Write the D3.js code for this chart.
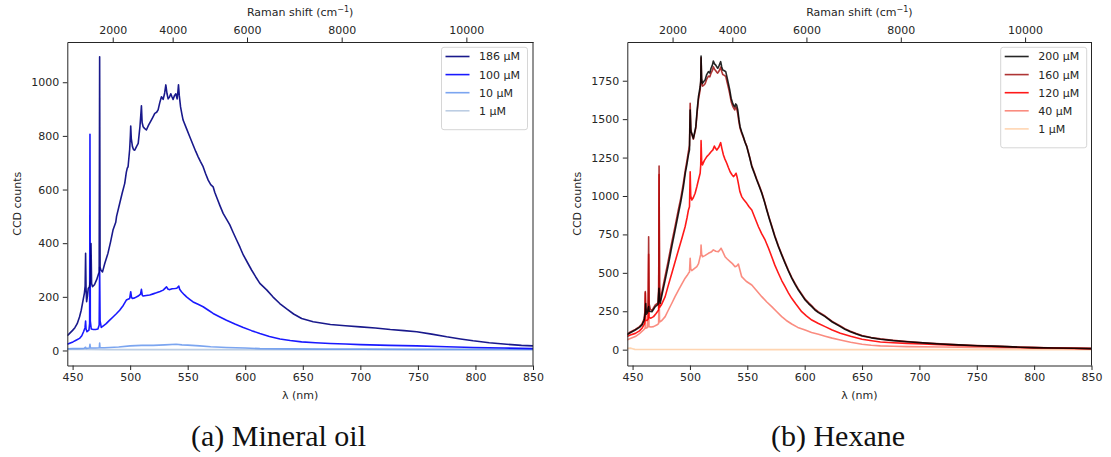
<!DOCTYPE html>
<html>
<head>
<meta charset="utf-8">
<script src="https://cdn.jsdelivr.net/npm/d3@7"></script>
<style>
  body { margin: 0; background: #fff; }
  svg { display: block; font-family: "DejaVu Sans", sans-serif; }
</style>
</head>
<body>
<svg id="fig" width="1111" height="457"></svg>
<script>
// ---- tick labels ----
const nmTicks = [450, 500, 550, 600, 650, 700, 750, 800, 850];
const ramanTicks = [2000, 4000, 6000, 8000, 10000];
const oilCountTicks = [0, 200, 400, 600, 800, 1000];
const hexCountTicks = [0, 250, 500, 750, 1000, 1250, 1500, 1750];
const excitationNm = 442;

// ---- mineral oil spectra: [wavelength nm, CCD counts] ----
const oil186 = [[445.4,55],[447,62],[450,75],[452,85],[454,100],[456,125],[457.5,150],[459,185],[460.3,215],[460.9,240],[461.3,362],[461.7,230],[462.2,182],[462.8,200],[463.6,232],[464.6,236],[465.1,250],[465.5,260],[466.0,399],[466.5,250],[467.3,238],[469,245],[471,265],[472.5,285],[473.1,292],[473.5,1095],[473.9,310],[474.5,300],[476,293],[478,325],[480.7,362],[483,405],[485.1,449],[487.5,478],[488.2,500],[490.9,548],[493,585],[495.3,623],[496.7,665],[497.5,680],[498.2,685],[499.6,750],[500.2,800],[500.5,837],[501,790],[502,760],[503,748],[504,747],[505.5,760],[507,772],[508.5,834],[509.3,880],[509.8,912],[510.4,850],[511.3,834],[512.5,828],[514.1,822],[516,840],[518.4,859],[520,872],[521.4,884],[523,888],[524.3,897],[525.8,925],[527.2,946],[528.7,936],[530,960],[531,990],[532,958],[533,938],[534.2,945],[535.3,957],[536.4,945],[537.3,936],[538.5,950],[539.7,957],[540.8,938],[541.5,965],[542,990],[542.7,950],[543.8,908],[545,880],[546,859],[548.9,828],[551.8,797],[554.7,766],[557,742],[559.1,722],[561,705],[563.4,685],[565.5,660],[567.8,635],[570,618],[572.1,610],[573.5,590],[575,573],[578,540],[580.8,511],[583.7,490],[586.6,468],[589.5,440],[592.5,412],[595.4,385],[598.3,356],[601.9,328],[605.5,300],[609,275],[612.7,250],[618.6,226],[624,200],[630,175],[636,155],[642,136],[649,119],[659,107],[674,97],[687,92],[700,88],[713,84],[726,78],[738,74],[749,70],[762,61],[775,51],[787,43],[798,36],[812,29],[827,23],[840,19],[850,17]];
const oil100 = [[445.4,23],[448,28],[450.3,32],[453,38],[456,45],[458,55],[459.5,70],[460.8,85],[461.3,110],[461.7,80],[462.5,70],[464.2,76],[464.8,100],[465.1,806],[465.4,110],[466.2,80],[468,78],[470,78],[472,80],[473.1,95],[473.5,310],[473.9,110],[474.9,86],[477,93],[479.2,100],[482,112],[485.1,125],[488,137],[490.9,150],[494,168],[496.7,188],[499.6,194],[500.5,219],[501.2,198],[502,194],[504,196],[507,203],[509,210],[509.8,228],[510.5,206],[511.3,203],[514,205],[517,207],[520,211],[522.8,215],[526,220],[528.7,225],[531.6,237],[533,228],[534.5,227],[536.5,230],[538.8,231],[540.5,232],[542.3,240],[543,228],[544.6,219],[547,208],[549,200],[552,190],[554.7,181],[559,172],[563.4,163],[568,150],[572.1,138],[578,125],[583.7,113],[591,99],[598.3,86],[605.5,74],[612.7,63],[621,52],[630.2,43],[639,37],[649,32],[661,29],[673.7,26],[687,24],[700,22],[725,19],[749,17],[775,14],[798,11],[825,9],[850,7]];
const oil10 = [[445.4,6],[450,7],[455,7],[460,8],[461.3,12],[461.6,8],[464.6,9],[465.1,23],[465.5,9],[470,9],[473.2,10],[473.5,28],[473.8,10],[478,10],[482,11],[490,13],[500,17],[505,18],[510,19],[520,19],[530,21],[540,23],[545,21],[550,20],[560.5,17],[570,14],[583.8,11],[600,9],[612.7,7],[640,6],[670,5],[700,5],[750,4],[800,4],[850,4]];
const oil1 = [[445.4,4],[460,4],[480,3],[505,3],[550,3],[600,3],[650,3],[700,3],[750,3],[800,3],[850,3]];

// ---- hexane spectra: [wavelength nm, CCD counts] ----
const hex200 = [[445.1,96],[448,110],[452.4,128],[456,145],[458.2,161],[460,190],[461.1,237],[461.5,300],[461.9,230],[463,240],[464,280],[464.5,250],[466.9,247],[469.8,280],[472.2,295],[473,400],[473.5,320],[474.1,302],[476,370],[478.4,453],[481,545],[484.2,670],[487,775],[490,887],[492,960],[494.3,1060],[496,1150],[497.3,1202],[498.7,1267],[499.6,1300],[500.2,1560],[500.8,1420],[501.6,1408],[503,1375],[505.1,1451],[506.3,1560],[507.4,1646],[508.9,1711],[509.4,1750],[509.7,1911],[510.2,1760],[510.9,1733],[512,1745],[513.2,1755],[514.6,1790],[516.1,1809],[517.3,1800],[518.4,1831],[519.5,1850],[520.4,1878],[521.4,1860],[522.5,1852],[523.4,1840],[524.2,1831],[525.5,1850],[526.8,1874],[527.7,1840],[528.6,1820],[530,1815],[531.2,1809],[532.4,1770],[533.5,1733],[534.7,1690],[535.9,1636],[537,1610],[537.9,1592],[539,1580],[539.9,1599],[540.8,1590],[541.7,1560],[542.7,1500],[543.7,1451],[545,1420],[546.6,1386],[548,1350],[549.5,1321],[552,1250],[553.9,1191],[556,1150],[558.2,1104],[560.5,1060],[562.6,1018],[565,960],[566.9,909],[569,855],[571.3,800],[574,735],[577.1,670],[580,615],[582.9,562],[585.8,512],[588.7,465],[591.6,425],[594.5,388],[597.5,355],[600.4,323],[603.3,300],[606.2,280],[609,258],[612,241],[617.8,215],[624,180],[631.1,150],[635,133],[639.8,117],[645,102],[650,89],[658,77],[666,68],[677,59],[689.2,52],[703,44],[718.3,37],[734,31],[750.2,26],[763,23],[776.3,20],[788,16],[799.6,13],[817,11],[834.5,9],[850,7]];
const hex160 = [[445.1,100],[448,115],[452.4,132],[456,150],[458.2,166],[460,200],[460.8,250],[461.1,378],[461.5,245],[462.5,250],[463.6,280],[464.0,735],[464.4,300],[465.5,262],[466.9,255],[469.8,292],[472.2,305],[472.8,400],[473.1,1195],[473.5,420],[474.1,320],[476,390],[478.4,480],[481,575],[484.2,700],[487,800],[490,915],[492,985],[494.3,1085],[496,1170],[497.3,1225],[498.7,1290],[499.6,1330],[500.2,1603],[500.8,1440],[501.6,1400],[503,1370],[505.1,1440],[506.3,1545],[507.4,1625],[508.9,1690],[509.4,1740],[509.7,1900],[510.2,1740],[510.9,1715],[512,1720],[513.2,1730],[514.6,1760],[516.1,1780],[517.3,1775],[518.4,1800],[519.5,1815],[520.4,1840],[521.4,1825],[522.5,1815],[523.4,1805],[524.2,1800],[525.5,1815],[526.8,1838],[527.7,1810],[528.6,1790],[530,1785],[531.2,1778],[532.4,1740],[533.5,1705],[534.7,1665],[535.9,1615],[537,1590],[537.9,1575],[539,1560],[539.9,1580],[540.8,1565],[541.7,1535],[542.7,1480],[543.7,1440],[545,1410],[546.6,1380],[548,1352],[549.5,1325],[552,1255],[553.9,1198],[556,1156],[558.2,1110],[560.5,1066],[562.6,1024],[565,966],[566.9,915],[569,861],[571.3,806],[574,741],[577.1,676],[580,621],[582.9,568],[585.8,518],[588.7,471],[591.6,431],[594.5,394],[597.5,361],[600.4,329],[603.3,306],[606.2,285],[609,263],[612,246],[617.8,219],[624,184],[631.1,154],[635,137],[639.8,120],[645,105],[650,92],[658,79],[666,70],[677,61],[689.2,53],[703,45],[718.3,38],[734,32],[750.2,27],[763,23],[776.3,20],[788,16],[799.6,13],[817,11],[834.5,9],[850,7]];
const hex120 = [[445.1,85],[448,95],[452.4,106],[456,122],[458.2,139],[460.5,171],[460.9,200],[461.1,370],[461.4,190],[462.5,190],[463.6,200],[464.0,620],[464.3,210],[466,205],[468.3,215],[470.5,235],[472.7,258],[473.1,1140],[473.5,275],[475,290],[478.4,345],[481,415],[484.2,497],[487,570],[490,649],[493,725],[495.8,800],[497.5,860],[498.7,909],[499.6,930],[500.2,1158],[500.7,1000],[501.6,974],[503,990],[504.5,1018],[506,1060],[507.4,1104],[508.9,1148],[509.4,1200],[509.7,1360],[510.2,1230],[510.9,1202],[512.5,1230],[514.7,1256],[516.5,1270],[518.4,1288],[520,1300],[521.3,1325],[522.3,1310],[523.4,1299],[525,1315],[526.8,1347],[527.8,1310],[529.2,1267],[530.5,1240],[532.1,1213],[533.5,1185],[535,1158],[536.5,1140],[537.9,1126],[539,1135],[540.2,1148],[541.2,1120],[542.2,1082],[543.5,1030],[545.1,996],[547,975],[549.5,952],[551.5,930],[553.9,909],[556.5,860],[559.7,800],[562.5,755],[565.5,714],[568.5,660],[571.3,605],[574,550],[577.1,497],[580,450],[582.9,410],[585.8,370],[588.7,334],[592,300],[597.4,247],[601.5,220],[606.2,193],[612,170],[617.8,150],[624,128],[631.1,107],[640,87],[650,68],[657,60],[666,50],[677,45],[689.2,41],[703,37],[718.3,33],[734,28],[750.2,24],[775,18],[799.6,13],[825,10],[850,7]];
const hex40 = [[445.1,63],[448,72],[452.4,85],[456,104],[459.5,128],[460.9,140],[461.1,190],[461.4,140],[463,145],[464,320],[464.3,150],[466,148],[468.3,150],[471,160],[472.7,170],[473.1,400],[473.5,180],[475.5,190],[478.4,215],[481,255],[484.2,302],[487,345],[490,388],[493,428],[495.8,465],[497.5,482],[498.7,497],[499.6,505],[500.2,595],[500.7,525],[501.6,514],[503.5,525],[506,540],[507.5,560],[508.9,605],[509.4,620],[509.7,681],[510.2,620],[510.9,605],[513,612],[516.1,627],[518.5,635],[520.4,649],[522.5,640],[524.8,638],[526,648],[527.1,660],[528.5,640],[530.6,605],[532.5,590],[535,573],[537,560],[539.3,540],[540.8,545],[542.2,557],[543.5,520],[545.1,475],[549,445],[553.9,421],[558,385],[562.6,345],[567,310],[571.3,280],[575.5,248],[580,215],[584,190],[588.7,167],[594,145],[600.4,128],[606,112],[612,100],[617.8,88],[624,75],[631.1,63],[640,48],[650,35],[658,29],[666,25],[677,22],[689.2,20],[720,17],[750.2,15],[800,10],[850,7]];
const hex1 = [[445.1,8],[448,10],[450,6],[452,2],[460,1],[500,1],[600,0],[700,0],[850,0]];

const oilLabels = ["186 µM", "100 µM", "10 µM", "1 µM"];
const hexLabels = ["200 µM", "160 µM", "120 µM", "40 µM", "1 µM"];

// ---- drawing ----
const svg = d3.select("#fig");
const toLambda = s => 1e7 / (1e7 / excitationNm - s);
const plain = d3.format("d");

function drawPanel(p) {
  const x = d3.scaleLinear().domain([445.4, 850]).range([p.left, p.right]);
  const y = d3.scaleLinear().domain(p.yDomain).range([p.bottom, p.top]);
  const g = svg.append("g");

  // spectra
  const line = d3.line().x(d => x(d[0])).y(d => y(d[1]));
  const clipId = "clip" + p.id;
  svg.append("clipPath").attr("id", clipId).append("rect")
    .attr("x", p.left).attr("y", p.top).attr("width", p.right - p.left).attr("height", p.bottom - p.top);
  const lines = g.append("g").attr("clip-path", `url(#${clipId})`);
  p.series.slice().reverse().forEach(s => {
    lines.append("path").datum(s.data)
      .attr("d", line).attr("fill", "none")
      .attr("stroke", s.color).attr("stroke-opacity", s.alpha)
      .attr("stroke-width", 1.6).attr("stroke-linejoin", "round");
  });

  // axes
  const axisStyle = sel => {
    sel.selectAll("path").attr("stroke", "#262626").attr("stroke-width", 1);
    sel.selectAll("line").attr("stroke", "#262626").attr("stroke-width", 1);
    sel.selectAll("text").attr("fill", "#262626").style("font-size", "11px")
      .style("font-family", "'DejaVu Sans', sans-serif");
  };
  g.append("g").attr("transform", `translate(0,${p.bottom})`)
    .call(d3.axisBottom(x).tickValues(nmTicks).tickFormat(plain).tickSize(4.5).tickPadding(3.5).tickSizeOuter(0))
    .call(axisStyle);
  g.append("g").attr("transform", `translate(0,${p.top})`)
    .call(d3.axisTop(x).tickValues(ramanTicks.map(toLambda)).tickFormat((d, i) => plain(ramanTicks[i]))
      .tickSize(4.5).tickPadding(3.5).tickSizeOuter(0))
    .call(axisStyle);
  g.append("g").attr("transform", `translate(${p.left},0)`)
    .call(d3.axisLeft(y).tickValues(p.yTicks).tickFormat(plain).tickSize(4.5).tickPadding(3.5).tickSizeOuter(0))
    .call(axisStyle);
  g.append("line").attr("x1", p.right).attr("x2", p.right).attr("y1", p.top).attr("y2", p.bottom)
    .attr("stroke", "#262626").attr("stroke-width", 1);

  // axis titles
  const cx = (p.left + p.right) / 2;
  g.append("text").attr("x", cx).attr("y", 398.5).attr("text-anchor", "middle")
    .style("font-size", "11px").attr("fill", "#262626").text("λ (nm)");
  const rt = g.append("text").attr("x", cx).attr("y", 16).attr("text-anchor", "middle")
    .style("font-size", "11px").attr("fill", "#262626");
  rt.append("tspan").text("Raman shift (cm");
  rt.append("tspan").attr("dy", -4).style("font-size", "8px").text("−1");
  rt.append("tspan").attr("dy", 4).text(")");
  g.append("text").attr("transform", `translate(${p.left - 46},${(p.top + p.bottom) / 2}) rotate(-90)`)
    .attr("text-anchor", "middle").style("font-size", "11px").attr("fill", "#262626").text("CCD counts");

  // legend
  const lg = g.append("g").attr("transform", `translate(${p.legend.x},${p.legend.y})`);
  const rowH = 18.1;
  lg.append("rect").attr("x", 0).attr("y", 0).attr("rx", 2.5)
    .attr("width", p.legend.w).attr("height", p.series.length * rowH + 10)
    .attr("fill", "#fff").attr("fill-opacity", 0.8).attr("stroke", "#d6d6d6").attr("stroke-width", 1);
  p.series.forEach((s, i) => {
    const yy = 9.2 + i * rowH;
    lg.append("line").attr("x1", 4).attr("x2", 28).attr("y1", yy).attr("y2", yy)
      .attr("stroke", s.color).attr("stroke-opacity", s.alpha).attr("stroke-width", 1.6);
    lg.append("text").attr("x", 37.5).attr("y", yy + 4).style("font-size", "11px")
      .attr("fill", "#262626").text(s.label);
  });

  // caption
  svg.append("text").attr("x", p.captionX).attr("y", 446).attr("text-anchor", "middle")
    .style("font-family", "'Liberation Serif', serif").style("font-size", "30px")
    .attr("fill", "#111").text(p.caption);
}

const oilColors = ["#000080", "#0000ff", "#6495ed", "#b0c4de"];
const oilAlpha = [0.9, 0.9, 0.85, 0.85];
const hexColors = ["#000000", "#a01010", "#ff0000", "#fa8072", "#ffd0a8"];
const hexAlpha = [0.85, 0.85, 0.9, 0.9, 0.9];

drawPanel({
  id: "a", left: 67.3, right: 533, top: 42, bottom: 365.5, yDomain: [-56, 1150], yTicks: oilCountTicks,
  series: [oil186, oil100, oil10, oil1].map((d, i) => ({ data: d, label: oilLabels[i], color: oilColors[i], alpha: oilAlpha[i] })),
  legend: { x: 441.5, y: 47.3, w: 86 }, caption: "(a) Mineral oil", captionX: 278.5
});
drawPanel({
  id: "b", left: 627.3, right: 1091.5, top: 42, bottom: 365.5, yDomain: [-103, 2002], yTicks: hexCountTicks,
  series: [hex200, hex160, hex120, hex40, hex1].map((d, i) => ({ data: d, label: hexLabels[i], color: hexColors[i], alpha: hexAlpha[i] })),
  legend: { x: 1000.7, y: 47.3, w: 86 }, caption: "(b) Hexane", captionX: 838
});
</script>
</body>
</html>
